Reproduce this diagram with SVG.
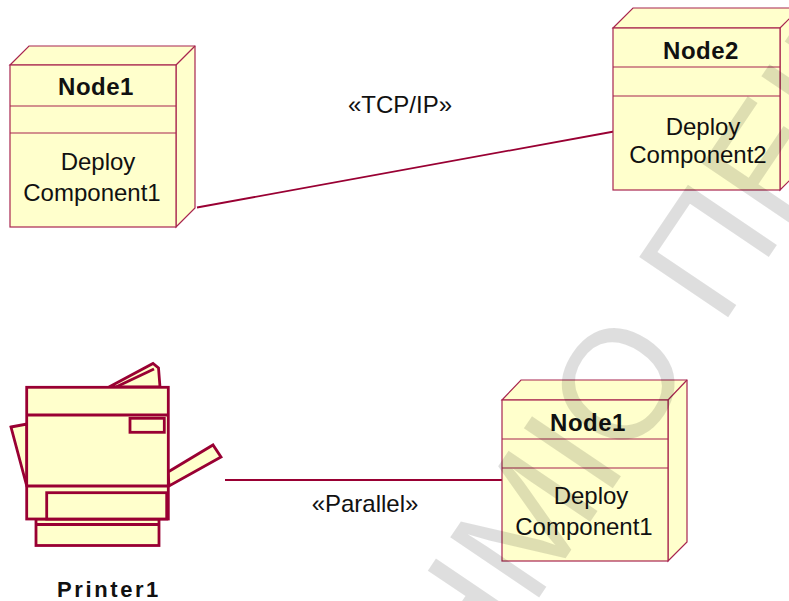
<svg xmlns="http://www.w3.org/2000/svg" width="789" height="601" viewBox="0 0 789 601">
  <style>
    .box { fill: #ffffcc; stroke: #a8254f; stroke-width: 1.2; stroke-linejoin: miter; }
    .div { stroke: #a8254f; stroke-width: 1.2; fill: none; }
    .title { font-family: "Liberation Sans", Arial, sans-serif; font-size: 24px; font-weight: bold; fill: #111; text-anchor: middle; letter-spacing: 0.5px; }
    .body { font-family: "Liberation Sans", Arial, sans-serif; font-size: 24px; fill: #111; text-anchor: middle; }
    .conn { stroke: #990033; stroke-width: 1.8; fill: none; }
    .lbl { font-family: "Liberation Sans", Arial, sans-serif; font-size: 24px; fill: #111; text-anchor: middle; }
    .prn { fill: #ffffcc; stroke: #990033; stroke-width: 2.8; stroke-linejoin: miter; }
    .prnl { stroke: #990033; stroke-width: 2.8; fill: none; }
    .devname { font-family: "Liberation Sans", Arial, sans-serif; font-size: 22px; font-weight: bold; fill: #111; text-anchor: middle; letter-spacing: 2.6px; }
    .wm { font-family: "Liberation Sans", Arial, sans-serif; font-size: 156px; fill: #000; fill-opacity: 0.13; }
  </style>

  <rect width="789" height="601" fill="#ffffff"/>

  <!-- connectors -->
  <g id="connectors">
    <line class="conn" x1="197" y1="207.5" x2="614" y2="131.5"/>
    <text class="lbl" x="400" y="113">«TCP/IP»</text>
    <line class="conn" x1="225" y1="480" x2="502" y2="480"/>
    <text class="lbl" x="365" y="512">«Parallel»</text>
  </g>

  <!-- deployment node, top left -->
  <g id="node1">
    <polygon class="box" points="10,65 29,46 195,46 195,208 176,227 176,65"/>
    <line class="div" x1="176" y1="65" x2="195" y2="46"/>
    <rect class="box" x="10" y="65" width="166" height="162"/>
    <line class="div" x1="10" y1="106" x2="176" y2="106"/>
    <line class="div" x1="10" y1="133" x2="176" y2="133"/>
    <text class="title" x="96" y="95">Node1</text>
    <text class="body" x="98" y="170">Deploy</text>
    <text class="body" x="92" y="201">Component1</text>
  </g>

  <!-- deployment node, top right -->
  <g id="node2">
    <polygon class="box" points="613,28 633,8 800,8 800,170 780,190 780,28"/>
    <line class="div" x1="780" y1="28" x2="800" y2="8"/>
    <rect class="box" x="613" y="28" width="167" height="162"/>
    <line class="div" x1="613" y1="67" x2="780" y2="67"/>
    <line class="div" x1="613" y1="96" x2="780" y2="96"/>
    <text class="title" x="701" y="59">Node2</text>
    <text class="body" x="703" y="135">Deploy</text>
    <text class="body" x="698" y="163">Component2</text>
  </g>

  <!-- deployment node, bottom right -->
  <g id="node3">
    <polygon class="box" points="502,400 521,380 687,380 687,542 668,561 668,400"/>
    <line class="div" x1="668" y1="400" x2="687" y2="380"/>
    <rect class="box" x="502" y="400" width="166" height="161"/>
    <line class="div" x1="502" y1="439" x2="668" y2="439"/>
    <line class="div" x1="502" y1="468" x2="668" y2="468"/>
    <text class="title" x="588" y="431">Node1</text>
    <text class="body" x="591" y="504">Deploy</text>
    <text class="body" x="584" y="535">Component1</text>
  </g>

  <!-- printer device -->
  <g id="printer1">
    <!-- sheets behind the body -->
    <polygon class="prn" points="109,387 153,363.5 158.5,368 160,387"/>
    <line class="prnl" x1="116" y1="387" x2="154" y2="369"/>
    <polygon class="prn" points="11,427 27,424 27,487"/>
    <!-- output tray -->
    <polygon class="prn" points="168,472 213,445 221,457 169,486"/>
    <!-- bottom tray -->
    <rect class="prn" x="36" y="519" width="123" height="26.5"/>
    <line class="prnl" x1="36" y1="524.5" x2="159" y2="524.5"/>
    <!-- body -->
    <rect class="prn" x="26.7" y="387.3" width="141.6" height="131.7"/>
    <line class="prnl" x1="26.7" y1="415" x2="168.3" y2="415"/>
    <rect class="prn" x="130" y="418.3" width="34.3" height="14"/>
    <line class="prnl" x1="26.7" y1="486" x2="168.3" y2="486"/>
    <rect class="prn" x="46.7" y="492.7" width="120" height="26.3"/>
    <text class="devname" x="109" y="597">Printer1</text>
  </g>

  <!-- background stamp across the page -->
  <g transform="translate(532,608) rotate(-56)">
    <text class="wm" x="0" y="0" text-anchor="end">ΠΑΝΕΠΙΣΤΗ</text>
    <text class="wm" x="0" y="0">ΜΙΟ ΠΕΙΡΑΙΩΣ</text>
  </g>
</svg>
